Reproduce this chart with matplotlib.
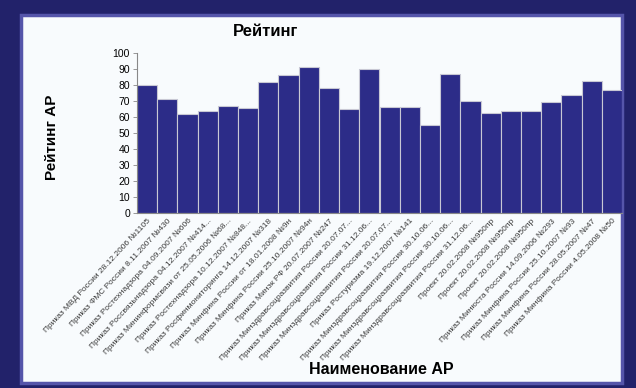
import matplotlib
matplotlib.use("Agg")
import matplotlib.pyplot as plt
from matplotlib.patches import Rectangle

plt.rcParams['font.family'] = ['Liberation Sans', 'DejaVu Sans']

categories = [
    "Приказ МВД России 28.12.2006 №1105",
    "Приказ ФМС России 8.11.2007 №430",
    "Приказ Ростехнадзора 04.09.2007 №606",
    "Приказ Россвязьнадзора 04.12.2007 №414...",
    "Приказ Мининформсвязи от 25.05.2006 №68...",
    "Приказ Ростехнадзора 10.12.2007 №848...",
    "Приказ Росфинмониторинга 14.12.2007 №318",
    "Приказ Минфина России от 18.01.2008 №9н",
    "Приказ Минфина России 25.10.2007 №94н",
    "Приказ Минэк РФ 20.07.2007 №247",
    "Приказ Минздравсоцразвития России 20.07.07...",
    "Приказ Минздравсоцразвития России 31.12.06...",
    "Приказ Минздравсоцразвития России 20.07.07...",
    "Приказ Ростуризма 19.12.2007 №141",
    "Приказ Минздравсоцразвития России 30.10.06...",
    "Приказ Минздравсоцразвития России 30.10.06...",
    "Приказ Минздравсоцразвития России 31.12.06...",
    "Проект 20.02.2008 №950пр",
    "Проект 20.02.2008 №950пр",
    "Проект 20.02.2008 №950пр",
    "Приказ Минюста России 14.09.2006 №293",
    "Приказ Минфина России 25.10.2007 №93",
    "Приказ Минфина России 28.05.2007 №47",
    "Приказ Минфина России 4.05.2008 №50",
]
ratings = [80, 71.5, 62, 63.5, 67, 65.5, 82, 86, 91, 78, 65, 90,
           66, 66, 55, 87, 70, 62.5, 64, 64, 69.5, 74, 82.5, 77]
yticks = list(range(0, 101, 10))

W, H = 636, 388
fig = plt.figure(figsize=(W / 100, H / 100), dpi=100)
fig.patch.set_facecolor('#22226a')

# inner light panel
panel = Rectangle((21 / W, 5 / H), (622 - 21) / W, (373 - 5) / H,
                  transform=fig.transFigure, facecolor='#f8fbfd',
                  edgecolor='#5555aa', linewidth=2.5, zorder=-5)
fig.patches.append(panel)

ax_left, ax_right = 137, 622
ax_top, ax_bottom = 53, 213
ax = fig.add_axes([ax_left / W, 1 - ax_bottom / H,
                   (ax_right - ax_left) / W, (ax_bottom - ax_top) / H])
ax.set_facecolor('none')
ax.set_zorder(1)

x = range(len(ratings))
ax.bar(x, ratings, width=1.0, color='#2c2c88', edgecolor='#c8c8d4',
       linewidth=0.8, zorder=2)
ax.set_xlim(-0.5, len(ratings) - 0.5)
ax.set_ylim(0, 100)
ax.set_yticks(yticks)
ax.set_yticklabels([str(t) for t in yticks], fontsize=7.5)
ax.set_xticks(list(x))
ax.set_xticklabels(categories, rotation=47, ha='right', rotation_mode='anchor',
                   fontsize=6.0, color='#3a3a3a')
ax.tick_params(axis='x', length=0, pad=3)
ax.tick_params(axis='y', length=3, width=0.6, color='#888888', pad=2)
for s in ['top', 'right']:
    ax.spines[s].set_visible(False)
ax.spines['left'].set_color('#888888')
ax.spines['bottom'].set_color('#888888')
ax.spines['left'].set_linewidth(0.8)
ax.spines['bottom'].set_linewidth(0.8)

fig.text(266 / W, 1 - 31 / H, "Рейтинг", fontsize=12, fontweight='bold',
         ha='center', va='center', color='black')
fig.text(52 / W, 1 - 137 / H, "Рейтинг АР", fontsize=11, fontweight='bold',
         ha='center', va='center', rotation=90, color='black')
fig.text(381 / W, 1 - 370 / H, "Наименование АР", fontsize=11.5, fontweight='bold',
         ha='center', va='center', color='black')

fig.savefig("out.png", dpi=100, facecolor=fig.get_facecolor())
